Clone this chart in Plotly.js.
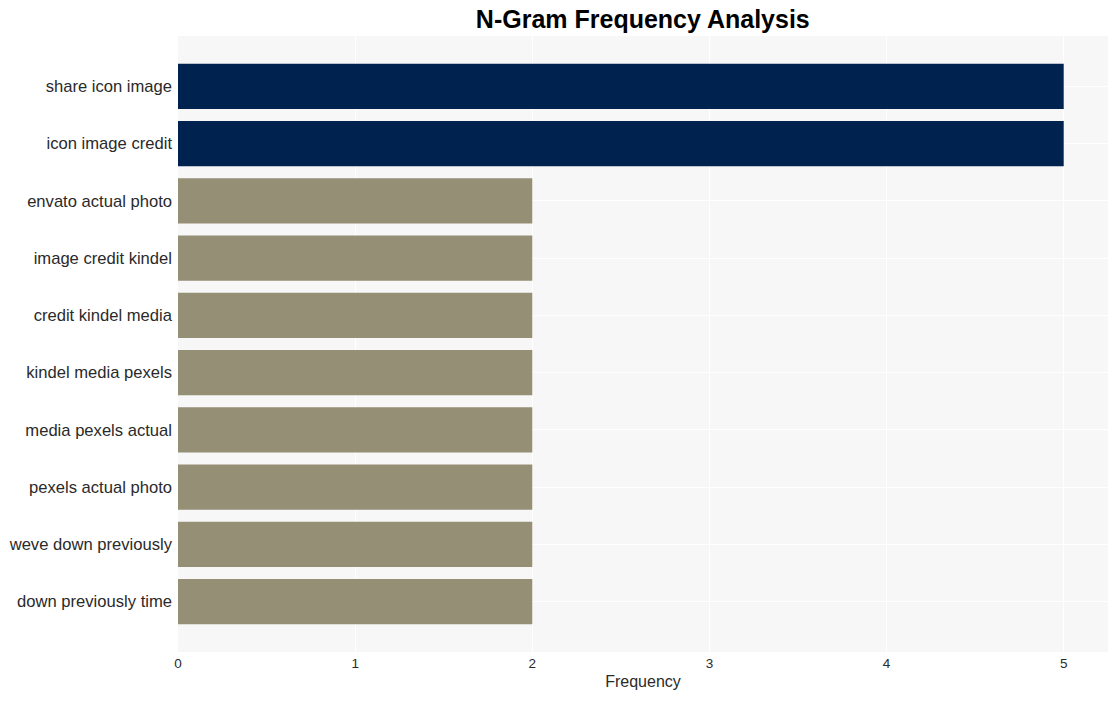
<!DOCTYPE html>
<html>
<head>
<meta charset="utf-8">
<script src="https://cdn.plot.ly/plotly-3.0.1.min.js"></script>
<style>html,body{margin:0;padding:0;background:#fff;}</style>
</head>
<body>
<div id="chart" style="width:1117px;height:701px;"></div>
<script>
const ngrams = ["share icon image","icon image credit","envato actual photo","image credit kindel","credit kindel media","kindel media pexels","media pexels actual","pexels actual photo","weve down previously","down previously time"];
const frequencies = [5,5,2,2,2,2,2,2,2,2];
const barColors = frequencies.map(v => v >= 5 ? "#00224e" : "#958f76");

Plotly.newPlot("chart", [{
  type: "bar",
  orientation: "h",
  x: frequencies,
  y: ngrams,
  marker: {color: barColors},
  hoverinfo: "x+y"
}], {
  width: 1117, height: 701,
  margin: {l: 178, r: 9, t: 36, b: 49},
  paper_bgcolor: "#ffffff",
  plot_bgcolor: "#f7f7f7",
  bargap: 0.21,
  font: {family: "Liberation Sans, Arial, sans-serif", color: "#2a2a2a"},
  title: {text: "<b>N-Gram Frequency Analysis</b>", x: 0.5755, xanchor: "center", y: 0.972, yanchor: "middle", font: {size: 25, color: "#000", family: "Liberation Sans, Arial, sans-serif"}},
  xaxis: {
    range: [0, 5.25], dtick: 1, gridcolor: "#ffffff", gridwidth: 1, zeroline: false,
    tickfont: {size: 13.5, color: "#2a2a2a"}, ticks: "", ticklabelstandoff: 1,
    title: {text: "Frequency", font: {size: 16, color: "#2a2a2a"}, standoff: 6}
  },
  yaxis: {
    type: "category", range: [9.88, -0.88], gridcolor: "#ffffff", zeroline: false,
    tickfont: {size: 16.6, color: "#2a2a2a"}, ticks: "", ticklabelstandoff: 5, automargin: false
  },
  showlegend: false
}, {displayModeBar: false});
</script>
</body>
</html>
